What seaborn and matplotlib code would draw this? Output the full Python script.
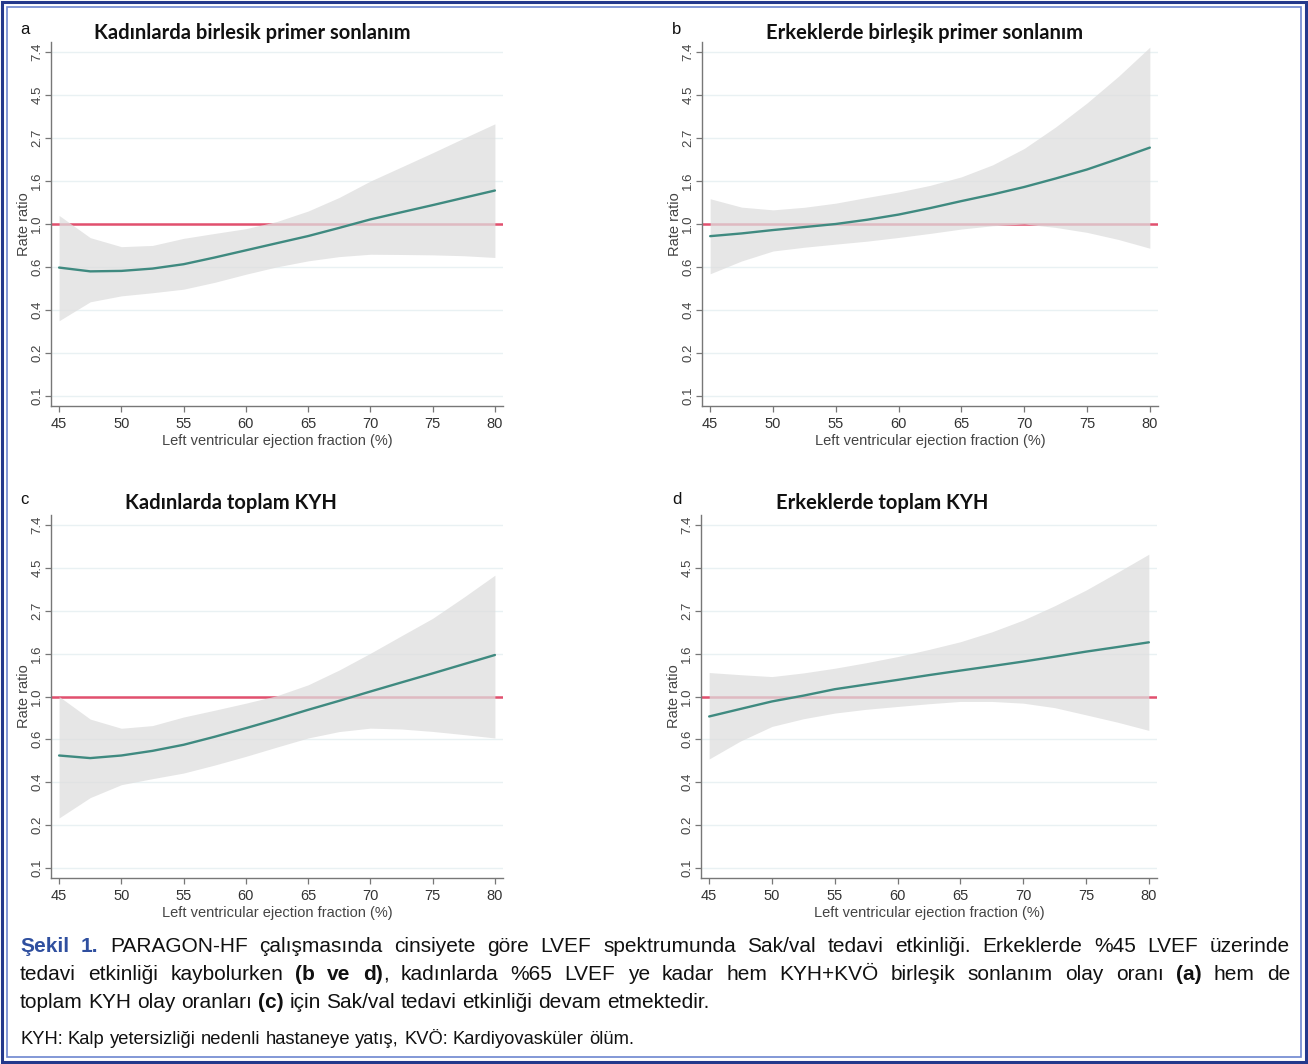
import numpy as np
import pandas as pd
import matplotlib
matplotlib.use("Agg")
import matplotlib.pyplot as plt
from matplotlib import font_manager
from matplotlib.patches import Rectangle
from matplotlib.ticker import NullLocator
import seaborn as sns

sns.set_theme(style="white")

installed = {f.name for f in font_manager.fontManager.ttflist}
NARROW = "Liberation Sans Narrow" in installed
BODY = "Liberation Sans Narrow" if NARROW else "Liberation Sans"
plt.rcParams["font.family"] = [BODY, "DejaVu Sans"]
TITLE_FONT = ["Lato", "DejaVu Sans"]

W, H = 1308, 1064

# ---- data (rate ratios) ----
lvef = [45, 47.5, 50, 52.5, 55, 57.5, 60, 62.5, 65, 67.5, 70, 72.5, 75, 77.5, 80]

a_mid = [0.602, 0.576, 0.579, 0.595, 0.626, 0.677, 0.736, 0.80, 0.869, 0.956, 1.055, 1.147, 1.246, 1.357, 1.477]
a_hi = [1.105, 0.853, 0.768, 0.779, 0.846, 0.896, 0.947, 1.03, 1.163, 1.363, 1.649, 1.944, 2.293, 2.718, 3.212]
a_lo = [0.324, 0.404, 0.433, 0.449, 0.468, 0.507, 0.557, 0.607, 0.651, 0.684, 0.703, 0.701, 0.698, 0.691, 0.677]

b_mid = [0.868, 0.896, 0.932, 0.965, 1.0, 1.051, 1.116, 1.203, 1.306, 1.412, 1.539, 1.699, 1.887, 2.138, 2.435]
b_hi = [1.342, 1.217, 1.179, 1.215, 1.275, 1.363, 1.452, 1.568, 1.732, 1.994, 2.411, 3.096, 4.096, 5.585, 7.846]
b_lo = [0.56, 0.650, 0.73, 0.763, 0.791, 0.819, 0.855, 0.896, 0.943, 0.98, 1.0, 0.961, 0.907, 0.835, 0.754]

c_mid = [0.502, 0.487, 0.502, 0.53, 0.569, 0.625, 0.691, 0.767, 0.856, 0.951, 1.06, 1.179, 1.31, 1.459, 1.624]
c_hi = [1.0, 0.768, 0.690, 0.712, 0.787, 0.852, 0.925, 1.01, 1.146, 1.363, 1.657, 2.034, 2.492, 3.19, 4.125]
c_lo = [0.242, 0.307, 0.357, 0.383, 0.409, 0.449, 0.497, 0.554, 0.616, 0.664, 0.691, 0.684, 0.665, 0.641, 0.616]

d_mid = [0.792, 0.865, 0.944, 1.01, 1.089, 1.15, 1.214, 1.284, 1.354, 1.426, 1.504, 1.592, 1.689, 1.782, 1.883]
d_hi = [1.323, 1.29, 1.262, 1.317, 1.391, 1.484, 1.594, 1.733, 1.896, 2.128, 2.442, 2.886, 3.466, 4.263, 5.27]
d_lo = [0.482, 0.595, 0.705, 0.771, 0.824, 0.861, 0.89, 0.919, 0.944, 0.944, 0.925, 0.878, 0.807, 0.741, 0.673]

panel_letters = ["a", "b", "c", "d"]
panel_titles = ["Kadınlarda birlesik primer sonlanım", "Erkeklerde birleşik primer sonlanım",
                "Kadınlarda toplam KYH", "Erkeklerde toplam KYH"]
ytick_labels = ["0.1", "0.2", "0.4", "0.6", "1.0", "1.6", "2.7", "4.5", "7.4"]
xticks = [45, 50, 55, 60, 65, 70, 75, 80]

panels = [(a_mid, a_lo, a_hi), (b_mid, b_lo, b_hi), (c_mid, c_lo, c_hi), (d_mid, d_lo, d_hi)]

# axes boxes in pixels: left, top, right, bottom
boxes = [(51, 42, 503, 406), (702, 42, 1158, 406), (51, 515, 503, 878), (701, 515, 1157, 878)]
title_pos = [(252, 33), (925, 33), (231, 503), (882, 503)]
letter_pos = [(20, 30), (672, 30), (20, 500), (672, 500)]

fig = plt.figure(figsize=(W / 100, H / 100), dpi=100)
fig.patch.set_facecolor("white")

LINE = "#3f8a80"
REF = "#e2506e"
BAND = "#dedede"
axis_fs = 11.5 if NARROW else 10.5

for i, (mid, lo, hi) in enumerate(panels):
    l, t, r, b = boxes[i]
    ax = fig.add_axes([l / W, 1 - b / H, (r - l) / W, (b - t) / H])
    ax.set_yscale("log")
    ax.axhline(1.0, color=REF, lw=1.8, zorder=2)
    ax.fill_between(lvef, lo, hi, color=BAND, alpha=0.75, lw=0, zorder=3)
    sns.lineplot(x=lvef, y=mid, ax=ax, color=LINE, lw=1.7, zorder=4)

    yt = np.exp(np.arange(-2, 2.01, 0.5))
    ax.set_yticks(yt)
    ax.set_yticklabels(ytick_labels, rotation=90, va="center", fontsize=axis_fs - 1, color="#444444")
    ax.yaxis.set_minor_locator(NullLocator())
    ax.set_ylim(np.exp(-2.12), np.exp(2.12))
    ax.set_xlim(44.35, 80.65)
    ax.set_xticks(xticks)
    ax.set_xticklabels([str(v) for v in xticks], fontsize=axis_fs, color="#333333")
    ax.yaxis.grid(True, color="#e9f1f3", lw=1.0, zorder=0)
    ax.xaxis.grid(False)
    for s in ["top", "right"]:
        ax.spines[s].set_visible(False)
    for s in ["left", "bottom"]:
        ax.spines[s].set_color("#777777")
        ax.spines[s].set_linewidth(1.0)
    ax.tick_params(axis="both", which="major", length=4, width=0.9, color="#777777",
                   bottom=True, left=True)
    ax.tick_params(axis="x", pad=4)
    ax.tick_params(axis="y", pad=1.5)
    ax.set_xlabel("Left ventricular ejection fraction (%)", fontsize=axis_fs, color="#444444", labelpad=2)
    ax.set_ylabel("Rate ratio", fontsize=axis_fs, color="#444444", labelpad=0)

    tx, ty = title_pos[i]
    fig.text(tx / W, 1 - ty / H, panel_titles[i], family=TITLE_FONT, weight="bold",
             fontsize=14.5, ha="center", va="center", color="#111111")
    lx, ly = letter_pos[i]
    fig.text(lx / W, 1 - ly / H, panel_letters[i], fontsize=12, ha="left", va="center", color="#111111")

# ---- caption with mixed bold / colour runs, justified ----
BLUE = "#2f4f9f"
INK = "#111111"
cap_lines = [
    [[("Şekil", True, BLUE)], [("1.", True, BLUE)]] + [[(w, False, INK)] for w in
        "PARAGON-HF çalışmasında cinsiyete göre LVEF spektrumunda Sak/val tedavi etkinliği. Erkeklerde %45 LVEF üzerinde".split()],
    [[(w, False, INK)] for w in "tedavi etkinliği kaybolurken".split()]
    + [[("(b", True, INK)], [("ve", True, INK)], [("d)", True, INK), (",", False, INK)]]
    + [[(w, False, INK)] for w in "kadınlarda %65 LVEF ye kadar hem KYH+KVÖ birleşik sonlanım olay oranı".split()]
    + [[("(a)", True, INK)], [("hem", False, INK)], [("de", False, INK)]],
    [[(w, False, INK)] for w in "toplam KYH olay oranları".split()]
    + [[("(c)", True, INK)]]
    + [[(w, False, INK)] for w in "için Sak/val tedavi etkinliği devam etmektedir.".split()],
]
cap_y = [946, 974, 1003]

renderer = fig.canvas.get_renderer()


def run_width(text, bold, size):
    t = fig.text(0, 0, text, fontsize=size, weight="bold" if bold else "normal", family=[BODY, "DejaVu Sans"])
    w = t.get_window_extent(renderer).width
    t.remove()
    return w


def space_width(size):
    return run_width("a a", False, size) - run_width("aa", False, size)


def natural_width(words, size):
    ws = sum(sum(run_width(tx, bd, size) for tx, bd, _ in word) for word in words)
    return ws + space_width(size) * (len(words) - 1)


def draw_line(words, x0, x1, y, size, justify):
    widths = [sum(run_width(tx, bd, size) for tx, bd, _ in word) for word in words]
    sp = space_width(size)
    if justify and len(words) > 1:
        sp = (x1 - x0 - sum(widths)) / (len(words) - 1)
    x = x0
    for word, ww in zip(words, widths):
        xr = x
        for tx, bd, col in word:
            fig.text(xr / W, 1 - y / H, tx, fontsize=size, weight="bold" if bd else "normal",
                     family=[BODY, "DejaVu Sans"], color=col, ha="left", va="center")
            xr += run_width(tx, bd, size)
        x += ww + sp


cap_fs = 15.0
widest = max(natural_width(cap_lines[0], cap_fs), natural_width(cap_lines[1], cap_fs))
if widest > 1262:
    cap_fs = cap_fs * 1262 / widest

for k, words in enumerate(cap_lines):
    draw_line(words, 20, 1290, cap_y[k], cap_fs, justify=(k < 2))

foot = [[(w, False, INK)] for w in "KYH: Kalp yetersizliği nedenli hastaneye yatış, KVÖ: Kardiyovasküler ölüm.".split()]
foot_fs = 12.5
foot_fs = foot_fs * 617 / natural_width(foot, foot_fs)
draw_line(foot, 20, 637, 1040, foot_fs, justify=False)

# ---- double blue frame ----
fig.add_artist(Rectangle((2 / W, 2 / H), (W - 4) / W, (H - 4) / H, transform=fig.transFigure,
                         fill=False, edgecolor="#24398c", lw=2.2))
fig.add_artist(Rectangle((7 / W, 7 / H), (W - 14) / W, (H - 14) / H, transform=fig.transFigure,
                         fill=False, edgecolor="#6d86cf", lw=1.2))

fig.savefig("out.png", dpi=100, facecolor="white")
